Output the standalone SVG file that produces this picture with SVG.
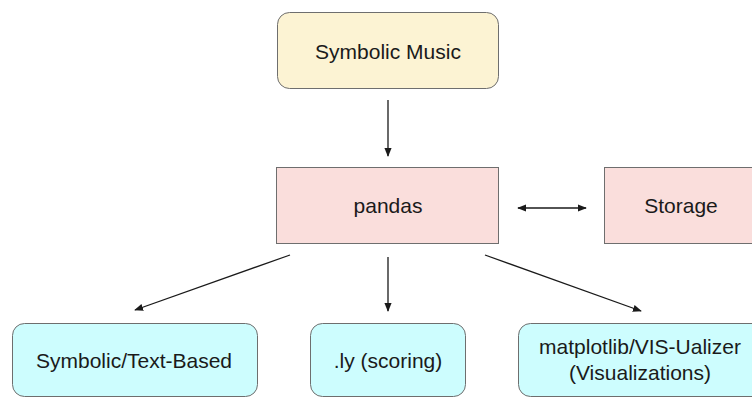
<svg xmlns="http://www.w3.org/2000/svg" width="752" height="398" viewBox="0 0 752 398">
<defs>
<style>
text{font-family:"Liberation Sans",Arial,sans-serif;font-size:21px;fill:#1a1a1a;text-anchor:middle}
.box{stroke:#6e6e6e;stroke-width:1}
.yel{fill:#fcf3d3}
.pink{fill:#fadedc}
.cyan{fill:#cdfdfe}
.conn line{stroke:#1a1a1a;stroke-width:1.3;fill:none}
</style>
<marker id="ah" viewBox="0 0 10 10" refX="9" refY="5" markerWidth="9" markerHeight="9" markerUnits="userSpaceOnUse" orient="auto-start-reverse">
<path d="M0,1 L10,5 L0,9 Z" fill="#1a1a1a"/>
</marker>
</defs>
<rect width="752" height="398" fill="#ffffff"/>
<g id="symbolic-music">
<rect class="box yel" x="277.5" y="12.5" width="221" height="76" rx="12"/>
<text x="388" y="59">Symbolic Music</text>
</g>
<g id="pandas">
<rect class="box pink" x="276.5" y="167.5" width="222" height="76"/>
<text x="388" y="213">pandas</text>
</g>
<g id="storage">
<rect class="box pink" x="604.5" y="167.5" width="160" height="76"/>
<text x="681" y="213">Storage</text>
</g>
<g id="symbolic-text">
<rect class="box cyan" x="12.5" y="323.5" width="245" height="73" rx="12"/>
<text x="134" y="368">Symbolic/Text-Based</text>
</g>
<g id="ly">
<rect class="box cyan" x="310.5" y="323.5" width="155" height="73" rx="12"/>
<text x="388" y="368">.ly (scoring)</text>
</g>
<g id="matplotlib">
<rect class="box cyan" x="518.5" y="323.5" width="250" height="73" rx="12"/>
<text x="640" y="354">matplotlib/VIS-Ualizer</text>
<text x="640" y="380">(Visualizations)</text>
</g>
<g class="conn" id="connectors">
<line x1="388" y1="100" x2="388" y2="156" marker-end="url(#ah)"/>
<line x1="518" y1="208" x2="586" y2="208" marker-start="url(#ah)" marker-end="url(#ah)"/>
<line x1="290" y1="255" x2="135" y2="310" marker-end="url(#ah)"/>
<line x1="388" y1="257" x2="388" y2="311" marker-end="url(#ah)"/>
<line x1="485" y1="255" x2="641" y2="311" marker-end="url(#ah)"/>
</g>
</svg>
